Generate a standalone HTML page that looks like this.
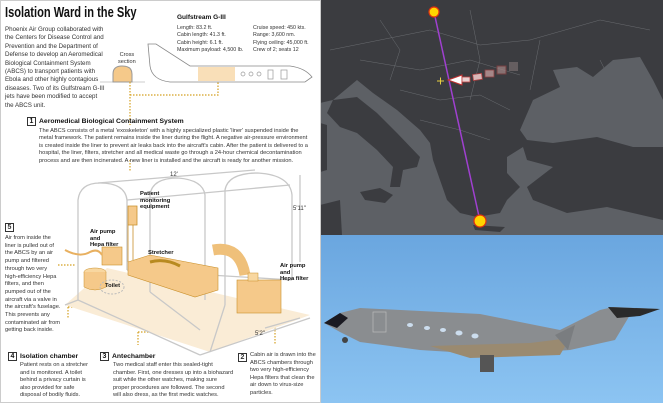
<!DOCTYPE html>
<html><head><meta charset="utf-8"><style>
*{margin:0;padding:0;box-sizing:border-box}
body{width:663px;height:403px;overflow:hidden;background:#fff;font-family:"Liberation Sans",sans-serif;position:relative;color:#222}
.t{position:absolute;white-space:nowrap;font-size:6.3px;line-height:7.4px;color:#333}
.b{font-weight:bold;color:#111}
.box{display:inline-block;border:1px solid #333;width:9px;height:9px;font-size:7px;line-height:8px;text-align:center;font-weight:bold;margin-right:3px}
</style></head><body>
<div style="position:absolute;left:0;top:0;width:321px;height:403px;border:1px solid #ccc;background:#fff"></div>
<div class="t b" style="left:5px;top:4px;font-size:15px;line-height:18px;transform:scaleX(0.74);transform-origin:0 0">Isolation Ward in the Sky</div>
<div class="t" style="left:5px;top:26px;font-size:6.2px;line-height:8.4px">Phoenix Air Group collaborated with<br>the Centers for Disease Control and<br>Prevention and the Department of<br>Defense to develop an Aeromedical<br>Biological Containment System<br>(ABCS) to transport patients with<br>Ebola and other highly contagious<br>diseases. Two of its Gulfstream G-III<br>jets have been modified to accept<br>the ABCS unit.</div>
<div class="t b" style="left:177px;top:14px;font-size:6.5px">Gulfstream G-III</div>
<div class="t" style="left:177px;top:25px;font-size:5.3px;line-height:7.3px">Length: 83.2 ft.<br>Cabin length: 41.3 ft.<br>Cabin height: 6.1 ft.<br>Maximum payload: 4,500 lb.</div>
<div class="t" style="left:253px;top:25px;font-size:5.3px;line-height:7.3px">Cruise speed: 450 kts.<br>Range: 3,600 nm.<br>Flying ceiling: 45,000 ft.<br>Crew of 2; seats 12</div>
<div class="t" style="left:118px;top:52px;font-size:5.6px;line-height:7px;text-align:center">Cross<br>section</div>
<svg style="position:absolute;left:0;top:0" width="321" height="403">
<path d="M100 82 L145 82" stroke="#ccc" stroke-width="1"/>
<path d="M113 82 L113 74 Q113 66 122 66 Q132 66 132 74 L132 82 Z" fill="#f5c98a" stroke="#999"/>
<path d="M150 66 L148 44 L156 44 L190 66 L290 66 Q305 68 312 77 L305 82 L170 82 Q152 80 150 66Z" fill="#fff" stroke="#888" stroke-width="0.8"/>
<rect x="198" y="67" width="37" height="14" fill="#f8dcb0" opacity="0.9"/>
<g fill="none" stroke="#999" stroke-width="0.7"><circle cx="243" cy="74" r="2"/><circle cx="251" cy="74" r="2"/><circle cx="259" cy="74" r="2"/><rect x="268" y="70" width="5" height="9"/><rect x="281" y="70" width="6" height="9"/></g>
<g stroke="#d4a020" stroke-width="1.2" stroke-dasharray="1.5 1.5" fill="none"><path d="M130 82 V125"/><path d="M130 95 H218 V82"/><path d="M130 160 V172"/><path d="M58 265 H75"/><path d="M68 307 V318 M68 307 H115"/><path d="M138 332 V345 M138 332 H155"/><path d="M275 318 V345"/></g>
<path d="M65 305 L107 268 L310 315 L210 352 Z" fill="#faecd6"/>
<g fill="none" stroke="#c8c8c8" stroke-width="1.3">
<path d="M78 300 V200 Q80 183 100 183 Q125 183 127 200 V270"/>
<path d="M150 292 V195 Q152 178 178 178 Q203 180 205 195 V300"/>
<path d="M225 305 V190 Q228 173 258 173 Q290 175 292 195 V280"/>
<path d="M98 183 L255 170 M127 200 L290 185 M78 300 L200 355 M127 270 L292 280 M200 355 L310 318"/>
<path d="M65 305 L78 300 M150 292 L200 330 M225 305 L210 352"/>
<path d="M300 175 V262 M265 328 L300 318"/>
</g>
<rect x="102" y="247" width="20" height="18" fill="#f5c98a" stroke="#c9902b" stroke-width="0.6"/>
<path d="M65 250 Q80 258 90 252 Q98 248 102 255" stroke="#e8b060" stroke-width="2" fill="none"/>
<ellipse cx="95" cy="272" rx="11" ry="4" fill="#f8d7a0" stroke="#c9902b" stroke-width="0.5"/>
<path d="M84 272 V287 Q95 293 106 287 V272" fill="#f5c98a" stroke="#c9902b" stroke-width="0.5"/>
<ellipse cx="112" cy="287" rx="12" ry="7" fill="none" stroke="#bbb" stroke-dasharray="2 1.5"/>
<path d="M128 262 L150 255 L218 268 L218 290 L195 297 L128 275 Z" fill="#f5c98a" stroke="#c9902b" stroke-width="0.6"/>
<path d="M150 262 Q165 258 180 266" stroke="#b88a20" stroke-width="3" fill="none"/>
<path d="M128 206 H137 V225 H128 Z M128 225 V262 M133 225 V260" fill="#f5c98a" stroke="#c9902b" stroke-width="0.8"/>
<path d="M213 250 Q240 245 245 275" stroke="#efc07a" stroke-width="11" fill="none"/>
<rect x="237" y="280" width="44" height="33" fill="#f5c98a" stroke="#c9902b" stroke-width="0.6"/>
<rect x="248" y="273" width="10" height="8" fill="#f8d7a0" stroke="#c9902b" stroke-width="0.5"/>
<text x="170" y="176" font-size="6" fill="#333" font-family="Liberation Sans">12'</text>
<text x="293" y="210" font-size="6" fill="#333" font-family="Liberation Sans">5'11"</text>
<text x="255" y="335" font-size="6" fill="#333" font-family="Liberation Sans">5'2"</text>
</svg>
<div class="t b" style="left:27px;top:117px;font-size:6.8px;line-height:10px"><span class="box">1</span>Aeromedical Biological Containment System</div>
<div class="t" style="left:39px;top:128px;font-size:5.7px;line-height:7.4px">The ABCS consists of a metal 'exoskeleton' with a highly specialized plastic 'liner' suspended inside the<br>metal framework. The patient remains inside the liner during the flight. A negative air-pressure environment<br>is created inside the liner to prevent air leaks back into the aircraft's cabin. After the patient is delivered to a<br>hospital, the liner, filters, stretcher and all medical waste go through a 24-hour chemical decontamination<br>process and are then incinerated. A new liner is installed and the aircraft is ready for another mission.</div>
<div class="t b" style="left:140px;top:191px;font-size:5.8px;line-height:6.5px">Patient<br>monitoring<br>equipment</div>
<div class="t b" style="left:90px;top:229px;font-size:5.8px;line-height:6.5px">Air pump<br>and<br>Hepa filter</div>
<div class="t b" style="left:148px;top:250px;font-size:5.8px">Stretcher</div>
<div class="t b" style="left:105px;top:283px;font-size:5.8px">Toilet</div>
<div class="t b" style="left:280px;top:263px;font-size:5.8px;line-height:6.5px">Air pump<br>and<br>Hepa filter</div>
<div class="t" style="left:5px;top:223px"><span class="box">5</span></div>
<div class="t" style="left:5px;top:235px;font-size:5.7px;line-height:7.7px">Air from inside the<br>liner is pulled out of<br>the ABCS by an air<br>pump and filtered<br>through two very<br>high-efficiency Hepa<br>filters, and then<br>pumped out of the<br>aircraft via a valve in<br>the aircraft's fuselage.<br>This prevents any<br>contaminated air from<br>getting back inside.</div>
<div class="t b" style="left:8px;top:352px;font-size:6.8px;line-height:10px"><span class="box">4</span>Isolation chamber</div>
<div class="t" style="left:20px;top:362px;font-size:5.7px;line-height:7.5px">Patient rests on a stretcher<br>and is monitored. A toilet<br>behind a privacy curtain is<br>also provided for safe<br>disposal of bodily fluids.</div>
<div class="t b" style="left:100px;top:352px;font-size:6.8px;line-height:10px"><span class="box">3</span>Antechamber</div>
<div class="t" style="left:113px;top:362px;font-size:5.7px;line-height:7.5px">Two medical staff enter this sealed-tight<br>chamber. First, one dresses up into a biohazard<br>suit while the other watches, making sure<br>proper procedures are followed. The second<br>will also dress, as the first medic watches.</div>
<div class="t" style="left:238px;top:353px"><span class="box">2</span></div>
<div class="t" style="left:250px;top:352px;font-size:5.7px;line-height:7.6px">Cabin air is drawn into the<br>ABCS chambers through<br>two very high-efficiency<br>Hepa filters that clean the<br>air down to virus-size<br>particles.</div>

<svg style="position:absolute;left:321px;top:0" width="342" height="235" viewBox="321 0 342 235">
<rect x="321" y="0" width="342" height="235" fill="#3b3c40"/>
<g stroke="#6a6c70" stroke-width="0.5" fill="none"><path d="M330 50 L380 40 L430 30 L480 45 L530 40 L600 20 L650 30"/><path d="M360 60 L420 70 L470 60 L520 75"/><path d="M400 90 L440 100 L480 95 L510 110"/><path d="M420 120 L460 130 L490 140"/><path d="M380 20 L400 50 L390 80 M470 10 L480 60 L470 100 M540 40 L530 90 M600 60 L620 100"/></g>
<path d="M320 103 L333 100 L357 80 L373 93 L397 110 L420 130 L430 143 L433 160 L440 180 L447 200 L460 213 L477 217 L500 213 L507 200 L520 187 L507 173 L507 157 L523 147 L527 160 L553 167 L527 187 L533 200 L567 213 L607 207 L663 220 L663 235 L320 235 Z" fill="#5d6065"/>
<path d="M520 130 L533 100 L560 87 L553 70 L577 67 L593 77 L613 60 L640 57 L653 80 L663 100 L663 147 L633 147 L597 137 L553 143 L527 140 Z" fill="#5d6065"/>
<path d="M333 100 L357 97 L377 113 L397 133 L420 157 L417 167 L403 170 L400 187 L390 187 L393 167 L377 150 L357 133 L340 127 L327 113 Z" fill="#3b3c40"/>
<path d="M360 192 L380 188 L393 195 L385 203 L365 200 Z" fill="#3b3c40"/>
<path d="M320 123 L327 125 L327 170 L320 172 Z" fill="#3b3c40"/>
<path d="M320 205 L340 200 L342 235 L320 235 Z" fill="#3b3c40"/>
<path d="M473 225 L505 227 L500 232 L475 230 Z" fill="#3b3c40"/>
<path d="M434 12 L480 221" stroke="#a040d0" stroke-width="1.5"/>
<polygon points="448,80 462,75 462,85" fill="#fff" stroke="#c03030" stroke-width="1"/>
<rect x="462" y="77" width="8" height="5" fill="#e8d0d0" stroke="#c04040" stroke-width="0.8"/>
<rect x="473" y="74" width="9" height="6" fill="#d8b8b8" stroke="#b04040" stroke-width="0.8" transform="rotate(-8 477 77)"/>
<rect x="485" y="70" width="9" height="7" fill="#c09a9a" stroke="#a04040" stroke-width="0.8" opacity="0.8"/>
<rect x="497" y="66" width="9" height="8" fill="#a88888" stroke="#904040" opacity="0.7"/>
<rect x="509" y="62" width="9" height="9" fill="#908080" opacity="0.5"/>
<path d="M437 81 H444 M440.5 77.5 V84.5" stroke="#e8d040" stroke-width="1"/>
<circle cx="434" cy="12" r="5" fill="#ffd400" stroke="#e03010" stroke-width="1.2"/>
<circle cx="480" cy="221" r="6" fill="#ffd400" stroke="#e03010" stroke-width="1.2"/>
</svg>
<div style="position:absolute;left:321px;top:235px;width:342px;height:168px;background:linear-gradient(#6aa6df,#8cc4f2)"></div>
<svg style="position:absolute;left:321px;top:235px" width="342" height="168" viewBox="321 235 342 168">
<path d="M324 323 L340 313 L360 308 L480 314 L560 330 L600 310 L613 307 L660 309 L630 315 L615 340 L570 350 L500 355 L420 350 L360 342 L340 332 Z" fill="#8a8d90"/>
<path d="M324 323 L340 313 L348 318 L337 328 Z" fill="#1a1a22"/>
<path d="M608 307 L660 309 L640 316 L617 318 Z" fill="#2a2a2a"/>
<path d="M430 346 L530 343 L570 338 L560 355 L470 358 Z" fill="#9a8a70"/>
<path d="M555 335 L575 325 L568 350 Z" fill="#7a7d80"/>
<rect x="480" y="355" width="14" height="17" fill="#555"/>
<circle cx="345" cy="340" r="3" fill="#444"/>
<rect x="373" y="312" width="13" height="20" fill="none" stroke="#bbb" stroke-width="0.7"/>
<g fill="#cde"><ellipse cx="410" cy="325" rx="3" ry="2"/><ellipse cx="427" cy="328" rx="3" ry="2"/><ellipse cx="443" cy="330" rx="3" ry="2"/><ellipse cx="459" cy="333" rx="3.5" ry="2.5"/><ellipse cx="475" cy="336" rx="3.5" ry="2.5"/></g>
</svg>
</body></html>
